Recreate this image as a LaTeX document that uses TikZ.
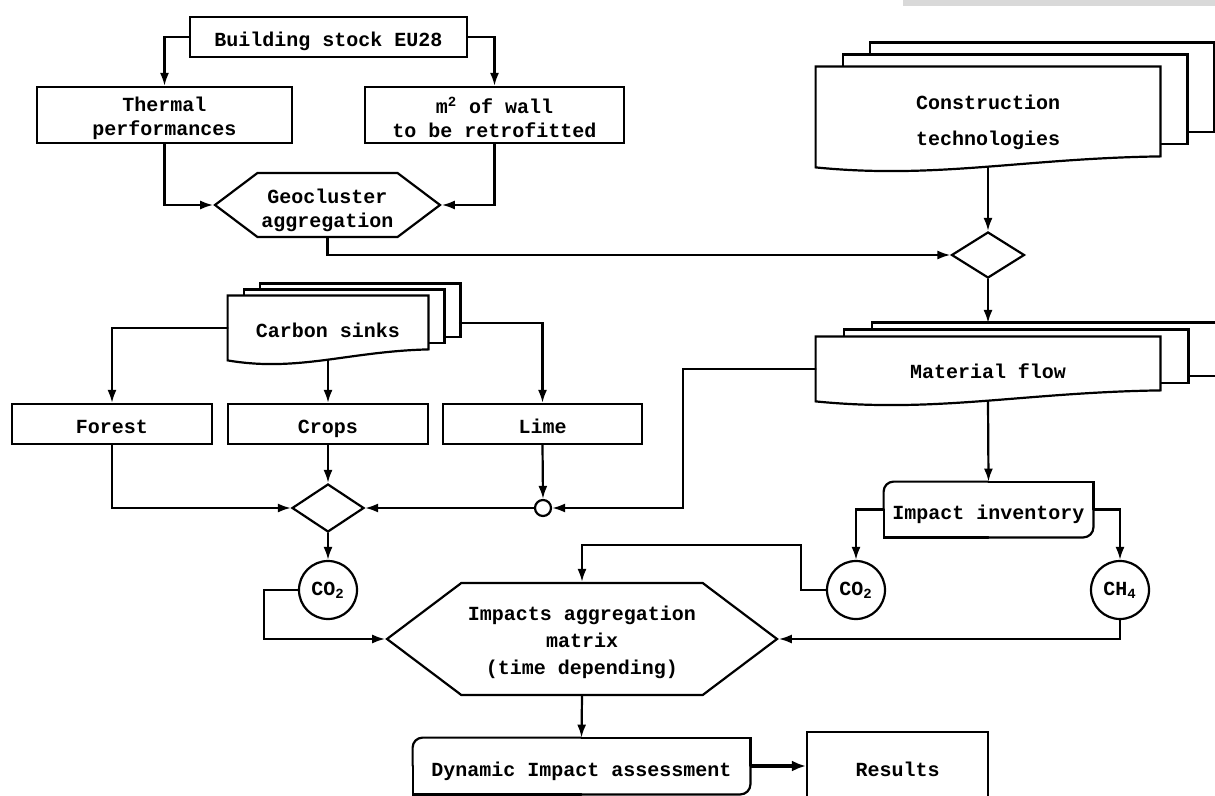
\documentclass[tikz,border=0pt]{standalone}
\usepackage{fontspec}
\setmainfont{Liberation Mono}
\usetikzlibrary{arrows.meta,shapes.geometric,shapes.symbols,calc,backgrounds}

% stacked document pages behind a node: #1 node, #2/#3 page offset
\newcommand{\docstack}[3]{%
	\foreach \k in {2,1}{%
		\draw[page] ([shift={(\k*#2,\k*#3)}]#1.north west) rectangle ([shift={(\k*#2,\k*#3-11)}]#1.south east);}
	\draw[page] (#1.south west) -- (#1.north west) -- (#1.north east)
		-- ([shift={(0,-11)}]#1.south east)
		.. controls ($(#1.south west)!0.6!(#1.south east)+(0,-9)$)
		and ($(#1.south west)!0.35!(#1.south east)+(0,12)$) .. (#1.south west) -- cycle;}

% box with two rounded corners
\newcommand{\halfround}[1]{%
	\draw[wire,rounded corners=5pt] (#1.east) -- (#1.south east) -- (#1.south);
	\draw[wire,rounded corners=5pt] (#1.west) -- (#1.north west) -- (#1.north);
	\draw[wire] (#1.north) -- (#1.north east) -- (#1.east);
	\draw[wire] (#1.south) -- (#1.south west) -- (#1.west);}

\begin{document}
\begin{tikzpicture}[x=0.5pt,y=-0.5pt,
	font=\fontsize{10}{12}\selectfont\bfseries,
	wire/.style={line width=1.1pt,line cap=round},
	box/.style={shape=rectangle,draw=black,line width=1.1pt,align=center,inner sep=0pt},
	one/.style={text height=10pt,text depth=0pt},
	doc/.style={shape=rectangle,align=center,inner sep=0pt},
	hexa/.style={shape=signal,signal to=west and east,signal pointer angle=74,draw=black,line width=1.1pt,align=center,inner sep=0pt},
	dia/.style={shape=diamond,draw=black,line width=1.1pt,inner sep=0pt},
	gas/.style={shape=circle,draw=black,line width=1.1pt,minimum size=29pt,inner sep=0pt},
	page/.style={draw=black,fill=white,line width=1.1pt},
	arr/.style={wire,-{Latex[length=6.5pt,width=4.5pt]}}]

	\useasboundingbox (0,0) rectangle (1215,796);
	\fill[black!15] (903,0) rectangle (1215,6);

	\node[box,one,minimum width=138.5pt,minimum height=20pt] (stock) at (328.5,37) {Building stock EU28};
	\node[box,minimum width=127.5pt,minimum height=28pt] (thermal) at (164.5,115) {\rule{0pt}{11pt}Thermal\\performances};
	\node[box,minimum width=129.5pt,minimum height=28pt] (wall) at (494.5,115) {\rule{0pt}{11pt}m\textsuperscript{2} of wall\\to be retrofitted};
	\node[hexa,minimum width=112.5pt,minimum height=32pt] (geo) at (327.5,205) {\rule{0pt}{12.5pt}Geocluster\\aggregation};

	\node[doc,minimum width=172pt,minimum height=50pt] (tech) at (988,117) {\rule{0pt}{13pt}Construction\\[6pt]technologies};
	\node[dia,minimum width=36.5pt,minimum height=23pt] (d1) at (988,255) {};
	\node[doc,one,minimum width=172pt,minimum height=32pt] (mat) at (988,369) {Material flow};
	\coordinate (mattop) at (988,323);

	\node[doc,one,minimum width=100pt,minimum height=32pt] (sink) at (328,328) {Carbon sinks};
	\coordinate (sinkback) at (460,323);
	\node[box,one,minimum width=100pt,minimum height=20pt] (forest) at (112,424) {Forest};
	\node[box,one,minimum width=100pt,minimum height=20pt] (crops) at (328,424) {Crops};
	\node[box,one,minimum width=99.5pt,minimum height=20pt] (lime) at (542.5,424) {Lime};
	\node[dia,minimum width=36pt,minimum height=24pt] (d2) at (328,508) {};
	\node[shape=circle,draw=black,line width=1.1pt,minimum size=8pt,inner sep=0pt] (join) at (543,508) {};

	\node[doc,one,minimum width=104.5pt,minimum height=27.5pt] (inv) at (988.5,509.5) {Impact inventory};
	\node[gas] (co2a) at (328,590) {CO\textsubscript{2}};
	\node[gas] (co2b) at (856,590) {CO\textsubscript{2}};
	\node[gas] (ch4) at (1120,590) {CH\textsubscript{4}};
	\node[hexa,minimum width=195pt,minimum height=56pt] (imp) at (582,639) {\rule{0pt}{10.3pt}Impacts aggregation\\[1.5pt]matrix\\[1.5pt](time depending)};
	\node[doc,one,minimum width=168.5pt,minimum height=28pt] (dyn) at (581.5,766) {Dynamic Impact assessment};
	\node[box,one,minimum width=90.5pt,minimum height=34pt] (res) at (897.5,766) {Results};

	\begin{pgfonlayer}{background}
		\docstack{tech}{27}{-12}
		\docstack{mat}{28}{-7}
		\docstack{sink}{16}{-6}
	\end{pgfonlayer}
	\halfround{inv}
	\halfround{dyn}

	\draw[arr] (stock.west) -| (thermal.north);
	\draw[arr] (stock.east) -| (wall.north);
	\draw[arr] (thermal.south) |- (geo.west);
	\draw[arr] (wall.south) |- (geo.east);
	\draw[arr] (geo.south) |- (d1.west);
	\draw[arr] (tech.south) -- (d1.north);
	\draw[arr] (d1.south) -- (mattop);
	\draw[arr] (mat.south) -- (inv.north);
	\draw[arr] (mat.west) -- ++(-133,0) |- (join.east);

	\draw[arr] (sink.west) -| (forest.north);
	\draw[arr] (sinkback) -| (lime.north);
	\draw[arr] (sink.south) -- (crops.north);
	\draw[arr] (forest.south) |- (d2.west);
	\draw[arr] (crops.south) -- (d2.north);
	\draw[arr] (lime.south) -- (join.north);
	\draw[arr] (join.west) -- (d2.east);
	\draw[arr] (d2.south) -- (co2a.north);

	\draw[arr] (inv.west) -| (co2b.north);
	\draw[arr] (inv.east) -| (ch4.north);
	\draw[arr] (co2a.west) -- ++(-34,0) |- (imp.west);
	\draw[arr] (co2b.west) -| ++(-25,-45) -| (imp.north);
	\draw[arr] (ch4.south) |- (imp.east);
	\draw[arr] (imp.south) -- (dyn.north);
	\draw[line width=1.8pt,-{Latex[length=7pt,width=5.5pt]}] (dyn.east) -- (res.west);
\end{tikzpicture}
\end{document}
